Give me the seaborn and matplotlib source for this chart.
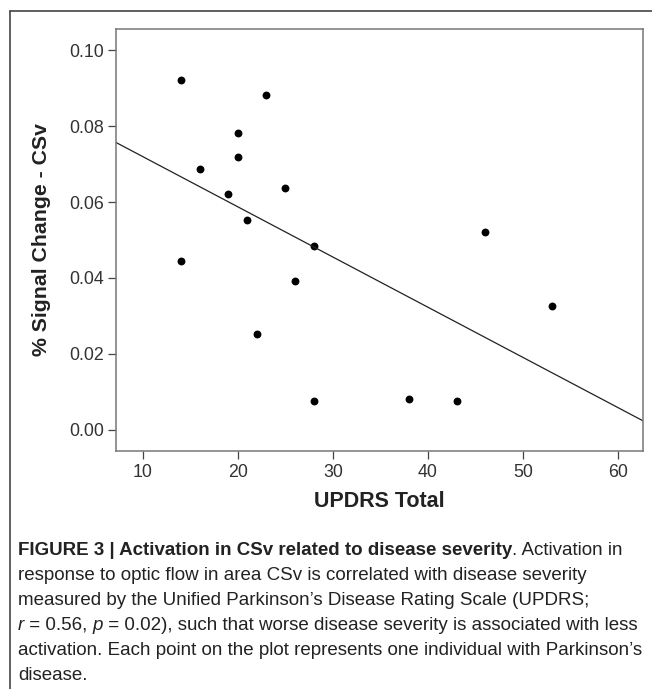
import matplotlib
matplotlib.use("Agg")
import matplotlib.pyplot as plt
import seaborn as sns
import pandas as pd
from matplotlib.lines import Line2D

# values (one point per patient)
updrs = [14, 23, 20, 20, 16, 19, 25, 21, 28, 14, 26, 22, 28, 38, 43, 46, 53]
signal = [0.0921, 0.0881, 0.0782, 0.0719, 0.0688, 0.0622, 0.0636, 0.0552, 0.0485,
          0.0444, 0.0391, 0.0252, 0.0076, 0.0081, 0.0075, 0.0521, 0.0326]

x_ticks = [10, 20, 30, 40, 50, 60]
y_ticks = [0.00, 0.02, 0.04, 0.06, 0.08, 0.10]

x_label = "UPDRS Total"
y_label = "% Signal Change - CSv"

caption_bold = "FIGURE 3 | Activation in CSv related to disease severity"
caption_lines = [
    "response to optic flow in area CSv is correlated with disease severity",
    "measured by the Unified Parkinson\u2019s Disease Rating Scale (UPDRS;",
    None,  # line with italic r and p, built below
    "activation. Each point on the plot represents one individual with Parkinson\u2019s",
    "disease.",
]

df = pd.DataFrame({"updrs": updrs, "signal": signal})

sns.set_style("ticks")
plt.rcParams["font.family"] = ["Liberation Sans", "DejaVu Sans"]

W, H = 652, 689
fig = plt.figure(figsize=(W / 100, H / 100), dpi=100)
ax = fig.add_axes([116 / W, 1 - 450.7 / H, (643 - 116) / W, (450.7 - 29.3) / H])

ax.set_xlim(7.2, 62.6)
ax.set_ylim(-0.0055, 0.1055)

sns.regplot(data=df, x="updrs", y="signal", ax=ax, ci=None, truncate=False,
            scatter_kws=dict(s=32, color="black", linewidths=0, alpha=1),
            line_kws=dict(color="#222222", lw=0.9))
ax.set_xlim(7.2, 62.6)
ax.set_ylim(-0.0055, 0.1055)

ax.set_xticks(x_ticks)
ax.set_yticks(y_ticks)
ax.set_yticklabels([f"{v:.2f}" for v in y_ticks])
ax.tick_params(axis="both", direction="out", length=5.5, width=0.9, color="#444444",
               labelsize=12.8, labelcolor="#333333")
ax.tick_params(axis="y", pad=3)
ax.tick_params(axis="x", pad=4)
for sp in ax.spines.values():
    sp.set_visible(True)
    sp.set_color("#777777")
    sp.set_linewidth(1.1)

ax.set_xlabel(x_label, fontsize=15.5, fontweight="bold", color="#222222", va="baseline")
ax.xaxis.set_label_coords(0.5, -(507 - 450.7) / 421.4)
ax.set_ylabel(y_label, fontsize=15.3, fontweight="bold", color="#222222", va="center")
ax.yaxis.set_label_coords((41.6 - 116) / 527, 0.5)

# outer frame of the figure panel (left and top edges)
fig.add_artist(Line2D([10 / W, 10 / W], [0, 1 - 11 / H], transform=fig.transFigure,
                      color="#444444", lw=1.2))
fig.add_artist(Line2D([10 / W, 1], [1 - 11 / H, 1 - 11 / H], transform=fig.transFigure,
                      color="#444444", lw=1.2))

# caption
cap_size = 11.5
cap_color = "#222222"
x0 = 18 / W
baselines = [555, 580, 605, 630, 655, 680]
texts = []

first = fig.text(x0, 1 - baselines[0] / H, caption_bold, fontsize=cap_size,
                 fontweight="bold", color=cap_color, va="baseline")
texts.append(first)
texts.append(ax.annotate(". Activation in", xy=(1, 0), xycoords=first, fontsize=cap_size,
                         color=cap_color, va="bottom", annotation_clip=False))

fit_line = None
for i, line in enumerate(caption_lines):
    yb = 1 - baselines[i + 1] / H
    if line is not None:
        t = fig.text(x0, yb, line, fontsize=cap_size, color=cap_color, va="baseline")
        texts.append(t)
        if i == 3:
            fit_line = t
    else:
        parts = [("r", "italic"), (" = 0.56, ", "normal"), ("p", "italic"),
                 (" = 0.02), such that worse disease severity is associated with less", "normal")]
        prev = fig.text(x0, yb, parts[0][0], fontsize=cap_size, style=parts[0][1],
                        color=cap_color, va="baseline")
        texts.append(prev)
        for s, st in parts[1:]:
            prev = ax.annotate(s, xy=(1, 0), xycoords=prev, fontsize=cap_size, style=st,
                               color=cap_color, va="bottom", annotation_clip=False)
            texts.append(prev)

# scale caption so the long line spans the same width as in the figure
fig.canvas.draw()
w = fit_line.get_window_extent().width
scale = (645 - 18) / w
for t in texts:
    t.set_fontsize(t.get_fontsize() * scale)

fig.savefig("out.png", dpi=100)
